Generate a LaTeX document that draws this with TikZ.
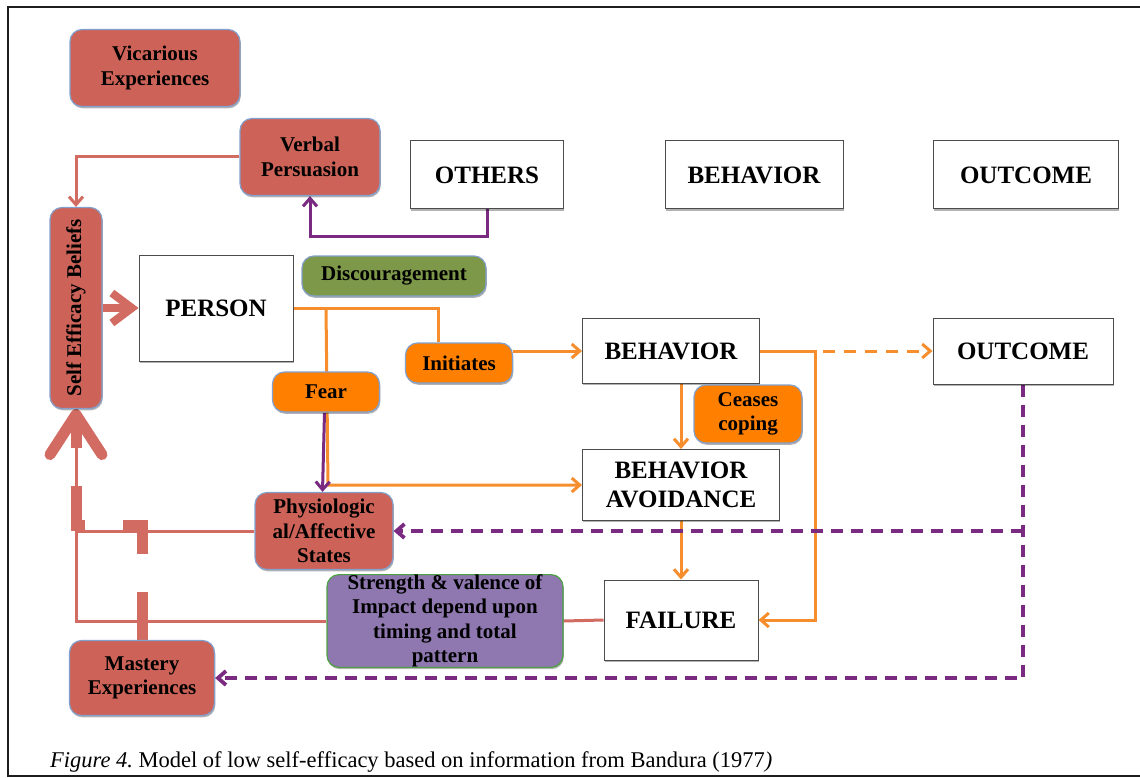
\documentclass[tikz,border=0pt]{standalone}
\usepackage{fontspec}
\setmainfont{Liberation Serif}
\usetikzlibrary{arrows.meta,shadows,backgrounds}
\definecolor{salmon}{RGB}{205,99,88}
\definecolor{salmonline}{RGB}{210,108,98}
\definecolor{edgeblue}{RGB}{130,160,205}
\definecolor{disgreen}{RGB}{125,152,72}
\definecolor{orfill}{RGB}{255,128,0}
\definecolor{orline}{RGB}{246,142,45}
\definecolor{purfill}{RGB}{143,120,176}
\definecolor{purline}{RGB}{122,42,128}
\definecolor{grnedge}{RGB}{75,160,65}
\definecolor{framegray}{RGB}{30,30,30}
\begin{document}
\begin{tikzpicture}[x=1pt,y=-1pt,
  shade/.style={drop shadow={shadow xshift=0.8pt, shadow yshift=-1.8pt, opacity=0.3, fill=black}},
  titlebox/.style={shade, draw=black!70, line width=1pt, fill=white, font=\fontsize{25}{29}\selectfont\bfseries, align=center, inner sep=0pt},
  lab/.style={shade, rounded corners=12pt, line width=1.2pt, font=\fontsize{21}{24.5}\selectfont\bfseries, align=center, inner sep=0pt},
  redbox/.style={lab, fill=salmon, draw=edgeblue},
  greenbox/.style={lab, fill=disgreen, draw=edgeblue},
  orbox/.style={lab, fill=orfill, draw=edgeblue},
  purbox/.style={lab, fill=purfill, draw=grnedge},
  tip/.style={-{Straight Barb[length=8pt,width=14pt]}},
  orln/.style={draw=orline, line width=3pt},
  purln/.style={draw=purline, line width=3pt},
  purdash/.style={draw=purline, line width=3.8pt, dash pattern=on 12pt off 8pt},
  redln/.style={draw=salmonline, line width=3pt},
  bigred/.style={draw=salmonline, line width=11pt}
]
\useasboundingbox (0,0) rectangle (1140,778);
\draw[line width=2.5pt, framegray] (1142,7) -- (8,7) -- (8,776) -- (1142,776);

% nodes
\node[redbox, minimum width=170pt, minimum height=77pt] (vic) at (155,68) {Vicarious\\Experiences};
\node[redbox, minimum width=140pt, minimum height=77pt] (verbal) at (310,157) {Verbal\\Persuasion};
\node[titlebox, minimum width=153pt, minimum height=68pt] (others) at (487,175) {OTHERS};
\node[titlebox, minimum width=178pt, minimum height=68pt] (behtop) at (754,175) {BEHAVIOR};
\node[titlebox, minimum width=185pt, minimum height=68pt] (outtop) at (1026,175) {OUTCOME};
\node[redbox, minimum width=52pt, minimum height=201pt] (seb) at (76,308) {\rotatebox{90}{Self Efficacy Beliefs}};
\node[titlebox, minimum width=154pt, minimum height=106pt] (person) at (216,308) {PERSON};
\node[greenbox, minimum width=184pt, minimum height=40pt] (disc) at (394,276) {Discouragement};
\node[orbox, minimum width=107pt, minimum height=40pt] (init) at (459,363) {Initiates};
\node[orbox, minimum width=107pt, minimum height=40pt] (fear) at (326,392) {Fear};
\node[titlebox, minimum width=177pt, minimum height=65pt] (behmid) at (671,351) {BEHAVIOR};
\node[titlebox, minimum width=180pt, minimum height=66pt] (outmid) at (1023,351) {OUTCOME};
\node[orbox, minimum width=108pt, minimum height=58pt] (ceases) at (748,414) {Ceases\\coping};
\node[titlebox, minimum width=197pt, minimum height=71pt] (avoid) at (681,485) {BEHAVIOR\\AVOIDANCE};
\node[redbox, minimum width=138pt, minimum height=77pt] (physio) at (324,531) {Physiologic\\al/Affective\\States};
\node[purbox, minimum width=236pt, minimum height=92pt] (strength) at (445,621) {Strength \& valence of\\Impact depend upon\\timing and total\\pattern};
\node[titlebox, minimum width=154pt, minimum height=80pt] (failure) at (681,620) {FAILURE};
\node[redbox, minimum width=145pt, minimum height=75pt] (mastery) at (142,678) {Mastery\\Experiences};

\node[anchor=base west, inner sep=0pt, font=\fontsize{22.5}{26}\selectfont] (cap) at (50,767) {\textit{Figure 4.}\kern-2pt{} Model of low self-efficacy based on information from Bandura (1977\textit{)}};

\begin{pgfonlayer}{background}
% red feedback lines
\draw[redln, tip] (verbal.west) -| (seb.north);
\draw[redln] (physio.west) -- (physio.west -| seb.south);
\draw[redln] (failure.west) -- (strength.east);
\draw[redln] (strength.west) -- (strength.west -| seb.south) -- (seb.south);
\draw[bigred, dash pattern=on 48pt off 38pt, -{Straight Barb[length=40pt,width=52pt,line cap=round,line join=round]}] (mastery.north) -- (142,525) -| (seb.south);
\draw[draw=salmonline, line width=8pt, -{Straight Barb[length=20pt,width=30pt]}] (seb.east) -- (person.west);
% others -> verbal
\draw[purln, tip] (others.south) -- ++(0,27) -| (verbal.south);
% orange
\draw[orln] (person.east) -| ([xshift=-21pt]init.north);
\draw[orln, tip] (person.east -| fear.north) -- ([xshift=2pt]fear.north |- avoid.west) -- (avoid.west);
\draw[purln, tip] ([xshift=-1.5pt]fear.south) -- ([xshift=-1.5pt]physio.north);
\draw[orln, tip] (behmid.west -| init.east) -- (behmid.west);
\draw[orln, tip] (avoid.north |- behmid.south) -- (avoid.north);
\draw[orln, tip] (avoid.south) -- (failure.north);
\draw[orln, dash pattern=on 12pt off 9pt, tip] (behmid.east) -- (outmid.west);
\draw[orln, tip] (behmid.east) -- (815,351) -- (815,620) -- (failure.east);
% purple dashed
\draw[purdash, tip] (outmid.south) -- (1023,678) -- (mastery.east);
\draw[purdash, tip] (1023,531) -- (physio.east);
\end{pgfonlayer}
\end{tikzpicture}
\end{document}
